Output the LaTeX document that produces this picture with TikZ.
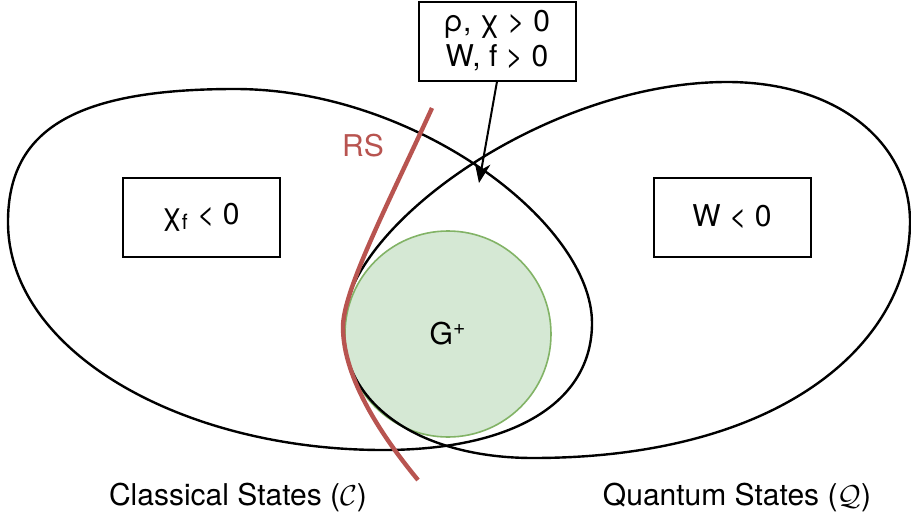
\documentclass[tikz,border=0pt]{standalone}
\usepackage{fontspec}
\setmainfont{TeX Gyre Heros}
\usepackage{xcolor}
\definecolor{gpfill}{HTML}{D5E8D4}
\definecolor{gpline}{HTML}{82B366}
\definecolor{rsred}{HTML}{B85450}
\usetikzlibrary{arrows.meta, positioning}

\begin{document}
\begin{tikzpicture}[
  x=0.5pt, y=-0.5pt,
  cond/.style={rectangle, draw=black, line width=1pt, fill=white, inner sep=0pt,
               minimum width=78.5pt, minimum height=39.5pt,
               font=\fontsize{15}{17.5}\selectfont, align=center},
  region/.style={draw=black, line width=1.2pt},
  rsline/.style={draw=rsred, line width=2.2pt},
  lbl/.style={font=\fontsize{15}{18}\selectfont},
  arr/.style={-{Stealth[length=10pt, width=8pt]}, line width=1pt}
]
\useasboundingbox (0,0) rectangle (911,525);

% G+ disc
\node[circle, draw=gpline, fill=gpfill, line width=0.8pt, inner sep=0pt,
      minimum size=103pt, lbl] (gplus) at (448,334) {G\textsuperscript{+}};

% Classical states
\draw[region] (8,222) .. controls (8,129) and (76,89) .. (235,89)
  .. controls (415,89) and (592,223) .. (592,323)
  .. controls (592,403) and (513,450) .. (383,450)
  .. controls (183,450) and (8,352) .. cycle;

% Quantum states
\draw[region] (727,82) .. controls (837,82) and (910,142) .. (910,222)
  .. controls (910,342) and (783,458) .. (533,458)
  .. controls (423,458) and (343,407) .. (343,327)
  .. controls (343,227) and (547,82) .. cycle;

% RS boundary
\draw[rsline] (432,108) .. controls (390,200) and (343,290) .. (343,327)
  .. controls (343,380) and (385,440) .. (418,480);
\node[lbl, text=rsred] (rs) at (363,146) {RS};

% Conditions
\node[cond] (negchi) at (201,217) {χ\textsubscript{f} < 0};
\node[cond] (negw) at (732,217) {W < 0};
\node[cond] (both) at (497,41) {ρ, χ > 0\\W, f > 0};
\coordinate (meet) at (479,183);
\draw[arr] (both.south) -- (meet);

% Set names
\node[lbl] (cls) at (238,497) {Classical States ($\mathcal{C}$)};
\node[lbl] (qnt) at (737,497) {Quantum States ($\mathcal{Q}$)};
\end{tikzpicture}
\end{document}
